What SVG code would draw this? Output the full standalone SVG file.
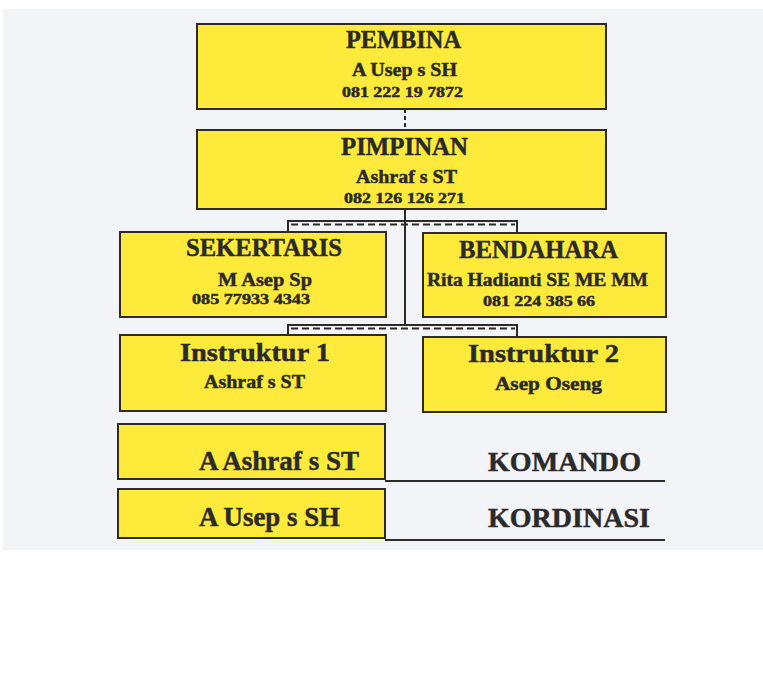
<svg xmlns="http://www.w3.org/2000/svg" width="763" height="683" viewBox="0 0 763 683">
<style>
.box{fill:#fdea3b;stroke:#2e2b26;stroke-width:2}
.t{font-family:"Liberation Serif","Times New Roman",serif;font-weight:bold;fill:#2b2a2a;stroke:#2b2a2a;stroke-width:0.45}
.h{font-size:25px}
.n{font-size:18px}
.p{font-size:14px}
.big{font-size:27px}
.ln{fill:none;stroke:#2e2b26;stroke-width:2}
.dash{fill:none;stroke:#2e2b26;stroke-width:2;stroke-dasharray:7 4}
</style>
<rect x="0" y="0" width="763" height="683" fill="#ffffff"/>
<rect x="3" y="9" width="760" height="541" fill="#f3f4f8"/>
<g id="connectors">
<line class="dash" x1="405" y1="109" x2="405" y2="130" style="stroke-dasharray:4 3"/>
<line class="ln" x1="405" y1="209" x2="405" y2="325"/>
<path class="ln" d="M288,232 V221 H517 V233"/>
<line class="dash" x1="291" y1="224.5" x2="515" y2="224.5"/>
<path class="ln" d="M288,335 V325 H517 V337"/>
<line class="dash" x1="291" y1="328.5" x2="515" y2="328.5"/>
<line class="ln" x1="385" y1="481" x2="665" y2="481"/>
<line class="ln" x1="385" y1="540" x2="665" y2="540"/>
</g>
<g id="pembina">
<rect class="box" x="197" y="24" width="409" height="85"/>
<text class="t h" x="346" y="48" textLength="115" lengthAdjust="spacingAndGlyphs">PEMBINA</text>
<text class="t n" x="352" y="76" textLength="105" lengthAdjust="spacingAndGlyphs">A Usep s SH</text>
<text class="t p" x="342" y="97" textLength="121" lengthAdjust="spacingAndGlyphs">081 222 19 7872</text>
</g>
<g id="pimpinan">
<rect class="box" x="197" y="130" width="409" height="79"/>
<text class="t h" x="341" y="155" textLength="127" lengthAdjust="spacingAndGlyphs">PIMPINAN</text>
<text class="t n" x="356" y="183" textLength="101" lengthAdjust="spacingAndGlyphs">Ashraf s ST</text>
<text class="t p" x="344" y="203" textLength="121" lengthAdjust="spacingAndGlyphs">082 126 126 271</text>
</g>
<g id="sekertaris">
<rect class="box" x="120" y="232" width="266" height="85"/>
<text class="t h" x="186" y="256" textLength="156" lengthAdjust="spacingAndGlyphs">SEKERTARIS</text>
<text class="t n" x="218" y="286" textLength="94" lengthAdjust="spacingAndGlyphs">M Asep Sp</text>
<text class="t p" x="192" y="304" textLength="118" lengthAdjust="spacingAndGlyphs">085 77933 4343</text>
</g>
<g id="bendahara">
<rect class="box" x="423" y="233" width="243" height="84"/>
<text class="t h" x="459" y="258" textLength="159" lengthAdjust="spacingAndGlyphs">BENDAHARA</text>
<text class="t n" x="427" y="286" textLength="221" lengthAdjust="spacingAndGlyphs">Rita Hadianti SE ME MM</text>
<text class="t p" x="483" y="306" textLength="112" lengthAdjust="spacingAndGlyphs">081 224 385 66</text>
</g>
<g id="instruktur1">
<rect class="box" x="120" y="335" width="266" height="76"/>
<text class="t h" x="180" y="361" textLength="150" lengthAdjust="spacingAndGlyphs">Instruktur 1</text>
<text class="t n" x="204" y="388" textLength="101" lengthAdjust="spacingAndGlyphs">Ashraf s ST</text>
</g>
<g id="instruktur2">
<rect class="box" x="423" y="337" width="243" height="75"/>
<text class="t h" x="468" y="362" textLength="151" lengthAdjust="spacingAndGlyphs">Instruktur 2</text>
<text class="t n" x="495" y="390" textLength="107" lengthAdjust="spacingAndGlyphs">Asep Oseng</text>
</g>
<g id="komando">
<rect class="box" x="118" y="424" width="267" height="55"/>
<text class="t big" x="199" y="470" textLength="160" lengthAdjust="spacingAndGlyphs">A Ashraf s ST</text>
<text class="t big" x="488" y="471" textLength="153" lengthAdjust="spacingAndGlyphs">KOMANDO</text>
</g>
<g id="kordinasi">
<rect class="box" x="118" y="489" width="267" height="49"/>
<text class="t big" x="199" y="526" textLength="141" lengthAdjust="spacingAndGlyphs">A Usep s SH</text>
<text class="t big" x="488" y="527" textLength="162" lengthAdjust="spacingAndGlyphs">KORDINASI</text>
</g>
</svg>
